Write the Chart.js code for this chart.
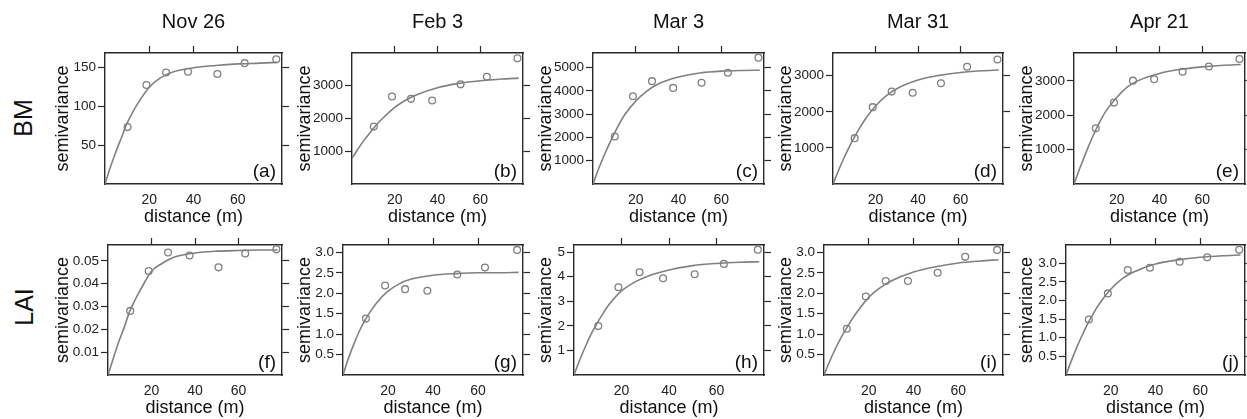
<!DOCTYPE html>
<html>
<head>
<meta charset="utf-8">
<script src="https://cdn.jsdelivr.net/npm/chart.js@4"></script>
<style>
  body { margin: 0; background: #fff; width: 1247px; height: 419px; overflow: hidden; position: relative; font-family: 'Liberation Sans', Arial, sans-serif; }
  canvas { position: absolute; }
  .rowlabel { position: absolute; font-size: 25px; line-height: 1; white-space: nowrap; color: #111; transform: translate(-50%, -50%) rotate(-90deg); }
</style>
</head>
<body>
<div class="rowlabel" style="left:23px; top:118px">BM</div>
<div class="rowlabel" style="left:24px; top:307px">LAI</div>
<script>
// --- data ---
const dates = ['Nov 26', 'Feb 3', 'Mar 3', 'Mar 31', 'Apr 21'];
const tags = ['(a)', '(b)', '(c)', '(d)', '(e)', '(f)', '(g)', '(h)', '(i)', '(j)'];
const lags = [10.2, 18.7, 27.6, 37.5, 50.8, 63.1, 77.4];
const fitLags = [0, 2.5, 5, 7.5, 10, 12.5, 15, 20, 25, 30, 40, 50, 60, 70, 78];
const xTicks = [20, 40, 60];

// BM semivariance
const bmNov26 = [73, 127, 143, 144, 141, 155, 160];
const bmFeb3  = [1740, 2650, 2580, 2530, 3020, 3250, 3810];
const bmMar3  = [2040, 3770, 4420, 4130, 4350, 4780, 5430];
const bmMar31 = [1270, 2130, 2560, 2530, 2790, 3250, 3450];
const bmApr21 = [1620, 2370, 3010, 3050, 3270, 3420, 3640];
const bmNov26Fit = [0, 22, 42, 60, 78, 92, 104, 124, 136, 143, 149, 152, 154, 155, 156];
const bmFeb3Fit  = [780, 1030, 1270, 1480, 1680, 1870, 2030, 2320, 2540, 2700, 2920, 3050, 3130, 3180, 3210];
const bmMar3Fit  = [0, 620, 1180, 1700, 2180, 2620, 3000, 3560, 3980, 4280, 4600, 4770, 4850, 4880, 4890];
const bmMar31Fit = [0, 360, 700, 1010, 1290, 1550, 1780, 2160, 2440, 2640, 2880, 3010, 3090, 3140, 3160];
const bmApr21Fit = [0, 420, 820, 1200, 1550, 1860, 2130, 2520, 2830, 3010, 3220, 3340, 3410, 3460, 3480];

// LAI semivariance
const laiNov26 = [0.0281, 0.0456, 0.0537, 0.0524, 0.0472, 0.0533, 0.0551];
const laiFeb3  = [1.38, 2.19, 2.10, 2.06, 2.46, 2.63, 3.06];
const laiMar3  = [1.99, 3.57, 4.18, 3.94, 4.10, 4.52, 5.10];
const laiMar31 = [1.13, 1.92, 2.30, 2.30, 2.50, 2.89, 3.06];
const laiApr21 = [1.49, 2.19, 2.82, 2.88, 3.04, 3.16, 3.36];
const laiNov26Fit = [0, 0.0075, 0.0147, 0.021, 0.028, 0.033, 0.0375, 0.0455, 0.049, 0.0515, 0.0535, 0.0543, 0.0546, 0.0548, 0.0548];
const laiFeb3Fit  = [0, 0.42, 0.78, 1.10, 1.36, 1.58, 1.77, 2.05, 2.23, 2.34, 2.44, 2.48, 2.50, 2.50, 2.51];
const laiMar3Fit  = [0, 0.63, 1.20, 1.72, 2.15, 2.55, 2.90, 3.42, 3.75, 3.98, 4.27, 4.45, 4.54, 4.59, 4.61];
const laiMar31Fit = [0, 0.33, 0.63, 0.90, 1.14, 1.36, 1.56, 1.90, 2.13, 2.30, 2.52, 2.65, 2.74, 2.79, 2.82];
const laiApr21Fit = [0, 0.40, 0.77, 1.10, 1.41, 1.68, 1.92, 2.30, 2.58, 2.76, 2.98, 3.09, 3.16, 3.20, 3.22];

// y axis ticks and ranges
const bmTicks = [[50, 100, 150], [1000, 2000, 3000], [1000, 2000, 3000, 4000, 5000], [1000, 2000, 3000], [1000, 2000, 3000]];
const laiTicks = [[0.01, 0.02, 0.03, 0.04, 0.05], [0.5, 1, 1.5, 2, 2.5, 3], [1, 2, 3, 4, 5], [0.5, 1, 1.5, 2, 2.5, 3], [0.5, 1, 1.5, 2, 2.5, 3]];
const bmMax = [168, 3970, 5630, 3630, 3815];
const laiMax = [0.057, 3.18, 5.29, 3.18, 3.49];
const laiDecimals = [2, 1, 0, 1, 1];

const bmObs = [bmNov26, bmFeb3, bmMar3, bmMar31, bmApr21];
const bmFit = [bmNov26Fit, bmFeb3Fit, bmMar3Fit, bmMar31Fit, bmApr21Fit];
const laiObs = [laiNov26, laiFeb3, laiMar3, laiMar31, laiApr21];
const laiFit = [laiNov26Fit, laiFeb3Fit, laiMar3Fit, laiMar31Fit, laiApr21Fit];

// --- layout (page pixels) ---
const yTitleX = [63, 305, 546, 786, 1027];
const boxLeft = [[105, 352, 593, 833, 1074], [108, 343, 574, 824, 1066]];
const boxRight = [282, 523, 764, 1003, 1245];
const boxTop = [53, 245];
const boxBottom = [184, 375];
const canvasTop = [0, 222];
const canvasBottom = [236, 419];

const FONT = "'Liberation Sans', Arial, sans-serif";
const INK = '#2a2a2a';
const GREY = '#808080';

const tagPlugin = {
  id: 'panelTag',
  afterDraw(chart, args, opts) {
    const { ctx, chartArea } = chart;
    ctx.save();
    ctx.font = '19px ' + FONT;
    ctx.fillStyle = '#111';
    ctx.textAlign = 'right';
    ctx.textBaseline = 'alphabetic';
    ctx.fillText(opts.text, chartArea.right - 6, chartArea.bottom - 7);
    ctx.restore();
  }
};

function makePanel(row, col) {
  const obs = row ? laiObs[col] : bmObs[col];
  const fit = row ? laiFit[col] : bmFit[col];
  const ticks = row ? laiTicks[col] : bmTicks[col];
  const yMax = row ? laiMax[col] : bmMax[col];
  const dec = row ? laiDecimals[col] : 0;

  const cLeft = yTitleX[col] - 11;
  const cTop = canvasTop[row];
  const cRight = boxRight[col] + 10;
  const cBottom = canvasBottom[row];
  const leftW = boxLeft[row][col] - cLeft;
  const rightW = cRight - boxRight[col];
  const topH = boxTop[row] - cTop;
  const bottomH = cBottom - boxBottom[row];

  const canvas = document.createElement('canvas');
  canvas.width = cRight - cLeft;
  canvas.height = cBottom - cTop;
  canvas.style.left = cLeft + 'px';
  canvas.style.top = cTop + 'px';
  document.body.appendChild(canvas);

  const edge = { display: true, color: INK, width: 1.4 };
  const tickGrid = { drawOnChartArea: false, drawTicks: true, tickLength: 7, tickColor: INK, tickWidth: 1.2 };

  new Chart(canvas, {
    type: 'scatter',
    data: {
      datasets: [
        {
          data: fitLags.map((x, i) => ({ x: x, y: fit[i] })),
          showLine: true,
          borderColor: GREY,
          borderWidth: 1.6,
          pointRadius: 0,
          cubicInterpolationMode: 'monotone',
          order: 2
        },
        {
          data: lags.map((x, i) => ({ x: x, y: obs[i] })),
          showLine: false,
          pointRadius: 3.4,
          pointBorderWidth: 1.3,
          pointBorderColor: GREY,
          pointBackgroundColor: 'rgba(255,255,255,0)',
          clip: false,
          order: 1
        }
      ]
    },
    options: {
      responsive: false,
      animation: false,
      devicePixelRatio: 1,
      layout: { padding: 0, autoPadding: false },
      plugins: {
        legend: { display: false },
        tooltip: { enabled: false },
        panelTag: { text: tags[row * 5 + col] }
      },
      scales: {
        x: {
          type: 'linear', position: 'bottom', min: 0, max: 80,
          afterBuildTicks: s => { s.ticks = xTicks.map(v => ({ value: v })); },
          afterFit: s => { s.height = bottomH; },
          border: edge,
          grid: { drawOnChartArea: false, drawTicks: false },
          ticks: { padding: 7.6, color: '#222', font: { size: 14, family: FONT } },
          title: {
            display: true, text: 'distance (m)', color: '#111',
            font: { size: 18, family: FONT },
            padding: { top: 0, bottom: bottomH - 33.5 - 10.8 }
          }
        },
        xTop: {
          type: 'linear', position: 'top', min: 0, max: 80,
          afterBuildTicks: s => { s.ticks = xTicks.map(v => ({ value: v })); },
          afterFit: s => { s.height = topH; },
          border: edge,
          grid: tickGrid,
          ticks: { display: false },
          title: {
            display: row === 0, text: dates[col], color: '#111',
            font: { size: 20, family: FONT },
            padding: { top: 10, bottom: 0 }
          }
        },
        y: {
          type: 'linear', position: 'left', min: 0, max: yMax,
          afterBuildTicks: s => { s.ticks = ticks.map(v => ({ value: v })); },
          afterFit: s => { s.width = leftW; },
          border: edge,
          grid: tickGrid,
          ticks: {
            padding: 2, color: '#222', font: { size: 13.5, family: FONT },
            callback: v => v.toFixed(dec)
          },
          title: {
            display: true, text: 'semivariance', color: '#111',
            font: { size: 18, family: FONT },
            padding: { top: 0, bottom: 0 }
          }
        },
        yRight: {
          type: 'linear', position: 'right', min: 0, max: yMax,
          afterBuildTicks: s => { s.ticks = ticks.map(v => ({ value: v })); },
          afterFit: s => { s.width = rightW; },
          border: edge,
          grid: tickGrid,
          ticks: { display: false }
        }
      }
    },
    plugins: [tagPlugin]
  });
}

for (let row = 0; row < 2; row++) {
  for (let col = 0; col < 5; col++) {
    makePanel(row, col);
  }
}
</script>
</body>
</html>
